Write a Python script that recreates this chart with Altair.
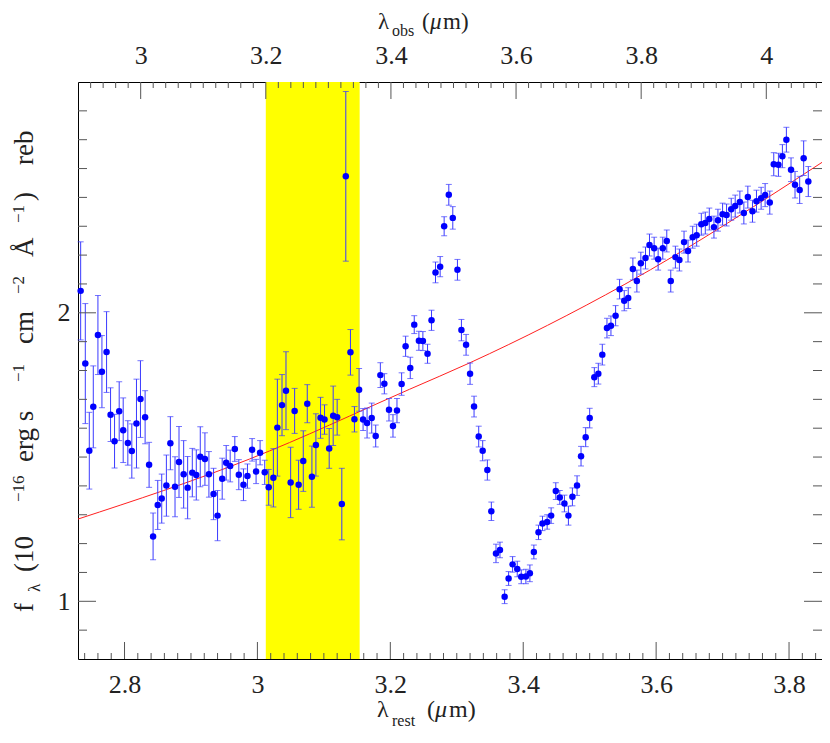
import altair as alt
import numpy as np
import pandas as pd

ONE_PLUS_Z = 1.0622
W, H = 744, 577
X_MIN, X_MAX = 2.73, 3.8496  # rest-frame range visible in the frame

rest_um = [
    2.734, 2.741, 2.747, 2.753, 2.760, 2.766, 2.773, 2.779, 2.785, 2.792,
    2.798, 2.805, 2.811, 2.818, 2.824, 2.831, 2.837, 2.843, 2.850, 2.856,
    2.863, 2.869, 2.876, 2.882, 2.889, 2.895, 2.902, 2.908, 2.914, 2.921,
    2.927, 2.934, 2.940, 2.947, 2.953, 2.959, 2.966, 2.972, 2.979, 2.985,
    2.992, 2.998, 3.004, 3.011, 3.017, 3.024, 3.030, 3.037, 3.043, 3.050,
    3.056, 3.062, 3.069, 3.075, 3.082, 3.088, 3.095, 3.101, 3.108, 3.114,
    3.120, 3.127, 3.133, 3.140, 3.146, 3.153, 3.159, 3.165, 3.172, 3.178,
    3.185, 3.191, 3.198, 3.204, 3.210, 3.217, 3.223, 3.230, 3.236, 3.243,
    3.249, 3.256, 3.262, 3.268, 3.275, 3.281, 3.288, 3.294, 3.301, 3.307,
    3.314, 3.320, 3.326, 3.333, 3.339, 3.346, 3.352, 3.359, 3.365, 3.372,
    3.378, 3.384, 3.391, 3.397, 3.404, 3.410, 3.416, 3.423, 3.429, 3.436,
    3.442, 3.449, 3.455, 3.462, 3.468, 3.474, 3.481, 3.487, 3.494, 3.500,
    3.507, 3.513, 3.519, 3.526, 3.532, 3.539, 3.545, 3.552, 3.558, 3.565,
    3.571, 3.577, 3.584, 3.590, 3.597, 3.603, 3.610, 3.616, 3.622, 3.629,
    3.635, 3.642, 3.648, 3.655, 3.661, 3.668, 3.674, 3.680, 3.687, 3.693,
    3.700, 3.706, 3.713, 3.719, 3.726, 3.732, 3.738, 3.745, 3.751, 3.758,
    3.764, 3.771, 3.777, 3.784, 3.790, 3.796, 3.803, 3.809, 3.816, 3.822,
    3.829,
]

flux = [
    2.076, 1.824, 1.522, 1.674, 1.923, 1.796, 1.864, 1.647, 1.555, 1.659,
    1.593, 1.549, 1.521, 1.616, 1.701, 1.638, 1.473, 1.225, 1.334, 1.356,
    1.401, 1.548, 1.397, 1.483, 1.440, 1.394, 1.446, 1.438, 1.501, 1.493,
    1.440, 1.372, 1.297, 1.425, 1.480, 1.469, 1.528, 1.439, 1.404, 1.434,
    1.525, 1.450, 1.515, 1.447, 1.395, 1.428, 1.602, 1.680, 1.730, 1.412,
    1.660, 1.404, 1.486, 1.685, 1.432, 1.542, 1.636, 1.630, 1.530, 1.643,
    1.638, 1.337, 2.473, 1.863, 1.631, 1.733, 1.630, 1.618, 1.635, 1.573,
    1.784, 1.754, 1.664, 1.608, 1.661, 1.753, 1.884, 1.809, 1.959, 1.903,
    1.902, 1.858, 1.974, 2.140, 2.160, 2.300, 2.409, 2.329, 2.149, 1.940,
    1.889, 1.789, 1.675, 1.571, 1.522, 1.455, 1.312, 1.166, 1.178, 1.016,
    1.079, 1.128, 1.112, 1.085, 1.086, 1.097, 1.171, 1.239, 1.270, 1.275,
    1.297, 1.382, 1.360, 1.339, 1.297, 1.362, 1.401, 1.503, 1.569, 1.635,
    1.777, 1.789, 1.855, 1.947, 1.955, 1.990, 2.082, 2.042, 2.051, 2.152,
    2.110, 2.172, 2.190, 2.235, 2.224, 2.186, 2.224, 2.249, 2.110, 2.193,
    2.183, 2.245, 2.214, 2.262, 2.269, 2.307, 2.311, 2.325, 2.297, 2.321,
    2.342, 2.339, 2.359, 2.370, 2.384, 2.346, 2.401, 2.352, 2.387, 2.397,
    2.408, 2.382, 2.515, 2.513, 2.543, 2.600, 2.496, 2.444, 2.426, 2.536,
    2.455,
]

flux_err = [
    0.170, 0.208, 0.133, 0.142, 0.137, 0.125, 0.140, 0.093, 0.093, 0.102,
    0.112, 0.077, 0.094, 0.154, 0.133, 0.092, 0.078, 0.081, 0.085, 0.085,
    0.106, 0.092, 0.104, 0.123, 0.117, 0.108, 0.084, 0.087, 0.104, 0.091,
    0.079, 0.089, 0.087, 0.071, 0.060, 0.055, 0.043, 0.052, 0.055, 0.042,
    0.039, 0.042, 0.042, 0.042, 0.062, 0.101, 0.168, 0.106, 0.135, 0.122,
    0.078, 0.085, 0.105, 0.066, 0.106, 0.108, 0.071, 0.051, 0.069, 0.103,
    0.062, 0.124, 0.294, 0.079, 0.044, 0.074, 0.038, 0.052, 0.052, 0.038,
    0.043, 0.035, 0.039, 0.039, 0.042, 0.039, 0.035, 0.037, 0.031, 0.033,
    0.033, 0.033, 0.035, 0.036, 0.035, 0.033, 0.036, 0.039, 0.036, 0.037,
    0.036, 0.037, 0.036, 0.036, 0.035, 0.035, 0.032, 0.032, 0.027, 0.024,
    0.024, 0.027, 0.027, 0.024, 0.025, 0.029, 0.024, 0.025, 0.025, 0.025,
    0.027, 0.029, 0.024, 0.029, 0.033, 0.031, 0.034, 0.034, 0.033, 0.034,
    0.033, 0.036, 0.036, 0.034, 0.034, 0.035, 0.034, 0.035, 0.036, 0.038,
    0.038, 0.038, 0.038, 0.038, 0.038, 0.038, 0.038, 0.038, 0.038, 0.038,
    0.038, 0.038, 0.038, 0.038, 0.038, 0.038, 0.038, 0.038, 0.038, 0.038,
    0.038, 0.038, 0.038, 0.038, 0.038, 0.038, 0.038, 0.038, 0.038, 0.038,
    0.040, 0.040, 0.040, 0.040, 0.040, 0.043, 0.041, 0.046, 0.047, 0.060,
    0.052,
]

cont_rest = [2.730, 2.988, 3.229, 3.320, 3.553, 3.862]
cont_flux = [1.285, 1.493, 1.735, 1.827, 2.099, 2.540]

band_obs = [3.20, 3.35]

bottom_major = [2.8, 3.0, 3.2, 3.4, 3.6, 3.8]
top_major = [3.0, 3.2, 3.4, 3.6, 3.8, 4.0]
y_major = [1.0, 2.0]

bottom_minor = [v for v in np.round(np.arange(2.74, 3.849, 0.02), 2) if round(v, 2) not in bottom_major]
top_minor = [v for v in np.round(np.arange(2.92, 4.085, 0.02), 2) if round(v, 2) not in top_major]
y_minor = [v for v in np.round(np.arange(0.9, 2.75, 0.1), 1) if round(v, 1) not in y_major]

LABEL_FONT = "Liberation Serif"
TITLE_FONT = "Liberation Serif"
TXT = "#222222"
TICK = "#555555"
EB = "#3a3aff"
PT = "#0000ff"

xs = alt.Scale(domain=[X_MIN, X_MAX], nice=False, zero=False)
xo = alt.Scale(domain=[X_MIN * ONE_PLUS_Z, X_MAX * ONE_PLUS_Z], nice=False, zero=False)
ys = alt.Scale(domain=[0.8, 2.8], nice=False, zero=False)

x_axis = alt.Axis(values=bottom_major, format="~g", ticks=False, tickSize=0, domain=False,
                  grid=False, labelFont=LABEL_FONT, labelFontSize=26, labelColor=TXT,
                  labelPadding=12, orient="bottom")
top_axis = alt.Axis(values=top_major, format="~g", ticks=False, tickSize=0, domain=False,
                    grid=False, labelFont=LABEL_FONT, labelFontSize=26, labelColor=TXT,
                    labelPadding=14, orient="top")
y_axis = alt.Axis(values=y_major, format="~g", ticks=False, tickSize=0, domain=False,
                  grid=False, labelFont=LABEL_FONT, labelFontSize=26, labelColor=TXT,
                  labelPadding=8, orient="left")

df = pd.DataFrame({"rest": rest_um, "flux": flux, "err": flux_err})
df["lo"] = df["flux"] - df["err"]
df["hi"] = df["flux"] + df["err"]

band_df = pd.DataFrame({"lo": [band_obs[0] / ONE_PLUS_Z], "hi": [band_obs[1] / ONE_PLUS_Z]})
cont_df = pd.DataFrame({"rest": cont_rest, "flux": cont_flux})


def X(field):
    return alt.X(field, type="quantitative", scale=xs, axis=x_axis, title=None)


def Y(field):
    return alt.Y(field, type="quantitative", scale=ys, axis=y_axis, title=None)


band = alt.Chart(band_df).mark_rect(color="#ffff00").encode(
    x=X("lo"), x2="hi", y=alt.value(0), y2=alt.value(H))

cont = alt.Chart(cont_df).mark_line(color="#ff2020", strokeWidth=1, interpolate="monotone", clip=True).encode(
    x=X("rest"), y=Y("flux"))

ebars = alt.Chart(df).mark_rule(color=EB, strokeWidth=1).encode(x=X("rest"), y=Y("lo"), y2="hi")
cap_lo = alt.Chart(df).mark_tick(color=EB, orient="horizontal", size=6, thickness=1).encode(x=X("rest"), y=Y("lo"))
cap_hi = alt.Chart(df).mark_tick(color=EB, orient="horizontal", size=6, thickness=1).encode(x=X("rest"), y=Y("hi"))
pts = alt.Chart(df).mark_circle(color=PT, opacity=1, size=42).encode(x=X("rest"), y=Y("flux"))


def vticks(values, length, top=False):
    d = pd.DataFrame({"v": values})
    if top:
        return alt.Chart(d).mark_rule(color=TICK, strokeWidth=1).encode(
            x=alt.X("v:Q", scale=xo, axis=top_axis, title=None), y=alt.value(0), y2=alt.value(length))
    return alt.Chart(d).mark_rule(color=TICK, strokeWidth=1).encode(
        x=X("v"), y=alt.value(H), y2=alt.value(H - length))


def hticks(values, length, right=False):
    d = pd.DataFrame({"v": values})
    if right:
        return alt.Chart(d).mark_rule(color=TICK, strokeWidth=1).encode(
            y=Y("v"), x=alt.value(W), x2=alt.value(W - length))
    return alt.Chart(d).mark_rule(color=TICK, strokeWidth=1).encode(
        y=Y("v"), x=alt.value(0), x2=alt.value(length))


def txt(s, x, y, size, angle=0, italic=False, font=TITLE_FONT):
    return alt.Chart(pd.DataFrame({"t": [s]})).mark_text(
        font=font, fontSize=size, angle=angle, align="left", baseline="alphabetic",
        color=TXT, fontStyle="italic" if italic else "normal").encode(
        x=alt.value(x), y=alt.value(y), text="t:N")


OX, OY = 78, 82  # page position of plot origin

titles = [
    # bottom title
    txt("λ", 377 - OX, 717 - OY, 24),
    txt("rest", 392 - OX, 726 - OY, 16),
    txt("(", 427 - OX, 717 - OY, 24),
    txt("μ", 435 - OX, 717 - OY, 24, italic=True),
    txt("m)", 449 - OX, 717 - OY, 24),
    # top title
    txt("λ", 378 - OX, 29 - OY, 23),
    txt("obs", 392 - OX, 36 - OY, 16),
    txt("(", 422 - OX, 29 - OY, 23),
    txt("μ", 430 - OX, 29 - OY, 23, italic=True),
    txt("m)", 443 - OX, 29 - OY, 23),
    # y title (rotated, reading bottom to top)
    txt("f", 33 - OX, 612 - OY, 27, angle=270),
    txt("λ", 40 - OX, 592 - OY, 17, angle=270),
    txt("(10", 33 - OX, 572 - OY, 27, angle=270),
    txt("−16", 24 - OX, 502 - OY, 17, angle=270),
    txt("erg  s", 33 - OX, 462 - OY, 27, angle=270),
    txt("−1", 24 - OX, 382 - OY, 17, angle=270),
    txt("cm", 33 - OX, 344 - OY, 27, angle=270),
    txt("−2", 24 - OX, 294 - OY, 17, angle=270),
    txt("Å", 33 - OX, 257 - OY, 27, angle=270),
    txt("−1", 24 - OX, 223 - OY, 17, angle=270),
    txt(")", 33 - OX, 201 - OY, 27, angle=270),
    txt("reb", 33 - OX, 165 - OY, 27, angle=270),
]

main = alt.layer(
    band, cont, ebars, cap_lo, cap_hi, pts,
    vticks(bottom_minor, 6), vticks(bottom_major, 17),
    hticks(y_minor, 9), hticks(y_major, 18),
    hticks(y_minor, 9, right=True), hticks(y_major, 18, right=True),
    *titles,
)

top = alt.layer(vticks(top_minor, 6, top=True), vticks(top_major, 17, top=True))

chart = alt.layer(main, top).resolve_scale(x="independent").properties(
    width=W, height=H,
    padding={"left": 70, "top": 74, "right": 0, "bottom": 71},
    autosize=alt.AutoSizeParams(type="none"),
    background="white",
).configure_view(stroke="black", strokeWidth=1)

chart.save("out.html", embed_options={"renderer": "svg", "actions": False})
